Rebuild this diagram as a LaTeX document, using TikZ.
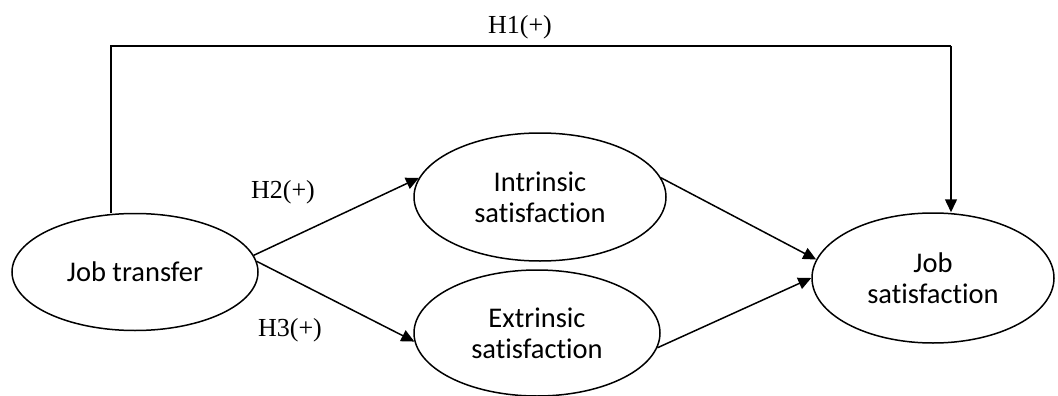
\documentclass[tikz,border=0pt]{standalone}
\usepackage{fontspec}
\setmainfont{Liberation Serif}
\newfontfamily\bodyfont[Ligatures=NoCommon]{Carlito}
\usetikzlibrary{arrows.meta,shapes.geometric}
\definecolor{PMInk}{HTML}{000000}
\definecolor{PMCanvas}{HTML}{FFFFFF}
\tikzset{
  path/.style={-{Triangle[length=13pt,width=12pt]},PMInk,line width=1.5pt},
  link/.style={PMInk,line width=1.5pt},
  construct/.style={ellipse,draw=PMInk,line width=1.5pt,inner sep=0pt,align=center,
                    text=PMInk,font=\bodyfont\fontsize{28.5}{31}\selectfont},
  hyp/.style={text=PMInk,font=\fontsize{26}{29}\selectfont,inner sep=0pt},
}
\begin{document}
\begin{tikzpicture}[x=1pt,y=-1pt]
    \useasboundingbox[fill=PMCanvas] (0,0) rectangle (1058,396);

    % constructs
    \node[construct,minimum width=246,minimum height=117] (jobtr) at (135,272) {Job transfer};
    \node[construct,minimum width=252,minimum height=128] (intr) at (540,197) {Intrinsic\\satisfaction};
    \node[construct,minimum width=246,minimum height=126] (extr) at (537,333) {Extrinsic\\satisfaction};
    \node[construct,minimum width=242,minimum height=130] (jobsat) at (933,278) {Job\\satisfaction};

    % hypotheses
    \coordinate (h1left) at (111,46);
    \coordinate (h1right) at (951,46);
    \draw[link] (jobtr.north -| h1left) -- (h1left) -- (h1right);
    \draw[path] (h1right) -- (jobsat.north -| h1right);
    \node[hyp] (h1) at (520,27) {H1(+)};

    \draw[path] (jobtr.8) -- (intr.171);
    \node[hyp] (h2) at (283,192) {H2(+)};
    \draw[path] (jobtr.5) -- (extr.184);
    \node[hyp] (h3) at (290,330) {H3(+)};

    \draw[path] (intr.9) -- (jobsat.171);
    \draw[path] (extr.353) -- (jobsat.180);
\end{tikzpicture}
\end{document}
